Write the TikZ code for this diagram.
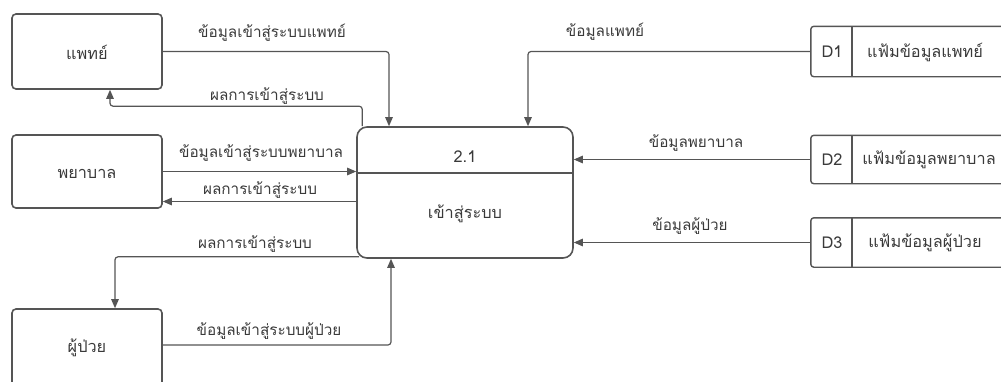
\documentclass[tikz,border=0pt]{standalone}
\usepackage{fontspec}
\newfontfamily\thaifont[Script=Thai]{Loma}
\usetikzlibrary{arrows.meta}
\definecolor{ln}{HTML}{555555}
\definecolor{tx}{HTML}{3A3A3A}
\tikzset{
  ent/.style={draw=ln, line width=1.6pt, rounded corners=4pt, minimum width=150pt, inner sep=0pt, text=tx},
  procbox/.style={draw=ln, line width=1.6pt, rounded corners=10pt, minimum width=216pt, minimum height=131pt, inner sep=0pt},
  storebox/.style={minimum width=199pt, minimum height=50pt, inner sep=0pt},
  storeline/.style={draw=ln, line width=1.4pt, rounded corners=3pt},
  arr/.style={draw=ln, line width=1.2pt, rounded corners=3pt, -{Triangle[length=9pt,width=7.5pt]}},
  lbl/.style={text=tx, inner sep=0pt, font=\thaifont\fontsize{15.3}{17}\selectfont},
  txt/.style={text=tx, inner sep=0pt, font=\thaifont\fontsize{16.3}{18}\selectfont}
}
\begin{document}
\begin{tikzpicture}[x=1pt,y=-1pt]
\useasboundingbox (0,0) rectangle (1001,381);
% entities
\node[ent, minimum height=75pt] (doc) at (87,51.5) {};
\node[txt] (doct) at (87,52) {แพทย์};
\node[ent, minimum height=73pt] (nurse) at (87,171.5) {};
\node[txt] (nurset) at (87,174) {พยาบาล};
\node[ent, minimum height=86pt] (pat) at (87,352) {};
\node[txt] (patt) at (87,348) {ผู้ป่วย};
% process
\node[procbox] (proc) at (465,192.5) {};
\draw[draw=ln, line width=1.6pt] ([yshift=-47pt]proc.north west) -- ([yshift=-47pt]proc.north east);
\node[txt] (pnum) at (465,157) {2.1};
\node[txt] (pname) at (465,214) {เข้าสู่ระบบ};
% data stores
\node[storebox] (d1) at (910.5,51.5) {};
\node[storebox, minimum height=48pt] (d2) at (910.5,159.5) {};
\node[storebox, minimum height=49pt] (d3) at (910.5,242.5) {};
\foreach \d in {d1,d2,d3}{
  \draw[storeline] (\d.north east) -- (\d.north west) -- (\d.south west) -- (\d.south east);
  \draw[draw=ln, line width=1.4pt] ([xshift=41pt]\d.north west) -- ([xshift=41pt]\d.south west);
}
\node[txt] (d1a) at (832,52) {D1};
\node[txt] (d1b) at (925,52) {แฟ้มข้อมูลแพทย์};
\node[txt] (d2a) at (832,160) {D2};
\node[txt] (d2b) at (929,160) {แฟ้มข้อมูลพยาบาล};
\node[txt] (d3a) at (832,243) {D3};
\node[txt] (d3b) at (925,243) {แฟ้มข้อมูลผู้ป่วย};
% connectors
\draw[arr] (doc.east) -| ([xshift=-76pt]proc.north);
\node[lbl] (l1) at (272,33) {ข้อมูลเข้าสู่ระบบแพทย์};
\draw[arr] ([xshift=6pt]proc.north west) -- ++(0,-20) -| ([xshift=23pt]doc.south);
\node[lbl] (l2) at (267,96) {ผลการเข้าสู่ระบบ};
\draw[arr] (nurse.east) -- (nurse.east -| proc.west);
\node[lbl] (l3) at (261,153) {ข้อมูลเข้าสู่ระบบพยาบาล};
\coordinate (n2) at ([yshift=-30pt]nurse.east);
\draw[arr] (n2 -| proc.west) -- (n2);
\node[lbl] (l4) at (260,190) {ผลการเข้าสู่ระบบ};
\draw[arr] ([xshift=3pt,yshift=2pt]proc.south west) -| ([xshift=28pt]pat.north);
\node[lbl] (l5) at (255,244) {ผลการเข้าสู่ระบบ};
\draw[arr] ([yshift=7pt]pat.east) -| ([xshift=-74pt]proc.south);
\node[lbl] (l6) at (269,331) {ข้อมูลเข้าสู่ระบบผู้ป่วย};
\draw[arr] (d1.west) -| ([xshift=63pt]proc.north);
\node[lbl] (l7) at (605,32) {ข้อมูลแพทย์};
\draw[arr] (d2.west) -- (d2.west -| proc.east);
\node[lbl] (l8) at (696,143) {ข้อมูลพยาบาล};
\draw[arr] (d3.west) -- (d3.west -| proc.east);
\node[lbl] (l9) at (690,226) {ข้อมูลผู้ป่วย};
\end{tikzpicture}
\end{document}
